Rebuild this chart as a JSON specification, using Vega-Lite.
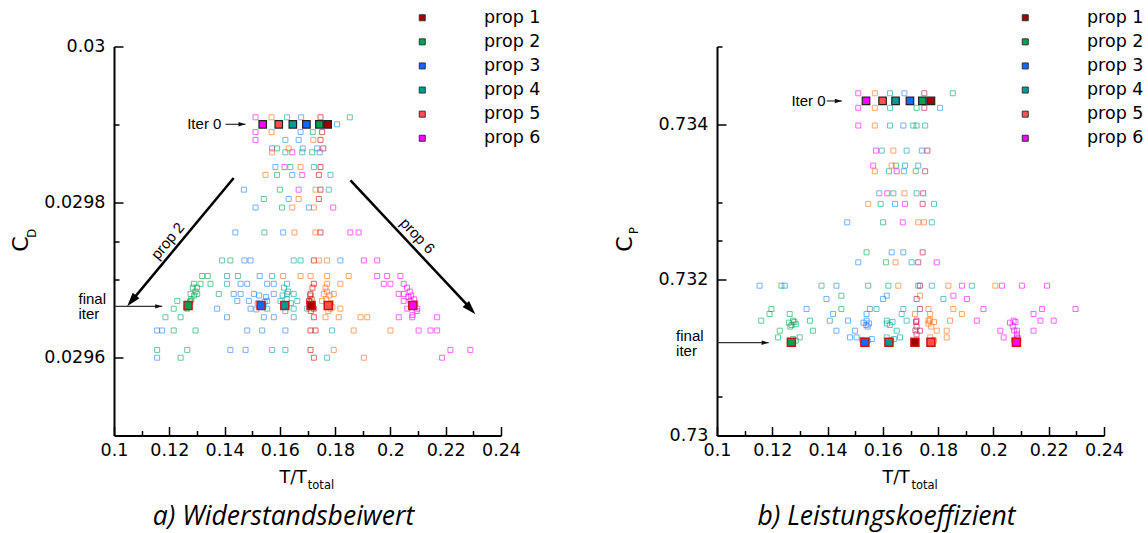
{
  "$schema": "https://vega.github.io/schema/vega-lite/v6.json",
  "background": "white",
  "padding": {"left": 9, "top": 8.5, "right": 0, "bottom": 0},
  "bounds": "flush",
  "spacing": 216,
  "config": {
    "view": {"stroke": null},
    "font": "DejaVu Sans",
    "axis": {
      "labelFont": "DejaVu Sans", "labelFontSize": 17.5, "labelColor": "#000",
      "domainColor": "#000", "domainWidth": 2, "tickColor": "#000", "tickWidth": 1.5,
      "grid": false, "titleFont": "DejaVu Sans", "titleFontWeight": "normal", "titleColor": "#000",
      "labelOverlap": false, "labelFlush": false, "labelBound": false
    }
  },
  "resolve": {"scale": {"fill": "independent", "stroke": "independent", "x": "independent", "y": "independent"}, "legend": {"fill": "independent"}},
  "datasets": {
    "cdScatter": [
      {"p":"prop 6","t":0.1512,"cd":0.029909},{"p":"prop 5","t":0.1570,"cd":0.029909},{"p":"prop 4","t":0.1626,"cd":0.029909},{"p":"prop 3","t":0.1677,"cd":0.029909},{"p":"prop 1","t":0.1747,"cd":0.029909},{"p":"prop 2","t":0.1853,"cd":0.029909},
      {"p":"prop 3","t":0.1807,"cd":0.0299},
      {"p":"prop 6","t":0.1512,"cd":0.02989},{"p":"prop 5","t":0.1570,"cd":0.02989},{"p":"prop 3","t":0.1675,"cd":0.02989},{"p":"prop 2","t":0.1719,"cd":0.02989},{"p":"prop 1","t":0.1753,"cd":0.02989},
      {"p":"prop 6","t":0.1512,"cd":0.02988},{"p":"prop 4","t":0.1620,"cd":0.02988},{"p":"prop 3","t":0.1668,"cd":0.02988},{"p":"prop 5","t":0.1721,"cd":0.02988},{"p":"prop 1","t":0.1747,"cd":0.02988},
      {"p":"prop 6","t":0.1572,"cd":0.029869},{"p":"prop 2","t":0.1590,"cd":0.029869},{"p":"prop 5","t":0.1632,"cd":0.029869},{"p":"prop 4","t":0.1683,"cd":0.029869},{"p":"prop 3","t":0.1735,"cd":0.029869},{"p":"prop 1","t":0.1757,"cd":0.029869},
      {"p":"prop 5","t":0.1572,"cd":0.029864},{"p":"prop 4","t":0.1620,"cd":0.029864},{"p":"prop 6","t":0.1645,"cd":0.029864},{"p":"prop 4","t":0.1681,"cd":0.029864},{"p":"prop 2","t":0.1717,"cd":0.029864},{"p":"prop 3","t":0.1744,"cd":0.029864},
      {"p":"prop 3","t":0.1584,"cd":0.029845},{"p":"prop 6","t":0.1617,"cd":0.029845},{"p":"prop 2","t":0.1638,"cd":0.029845},{"p":"prop 5","t":0.1675,"cd":0.029845},{"p":"prop 4","t":0.1723,"cd":0.029845},{"p":"prop 1","t":0.1747,"cd":0.029845},
      {"p":"prop 5","t":0.1548,"cd":0.029835},{"p":"prop 2","t":0.1590,"cd":0.029835},{"p":"prop 3","t":0.1645,"cd":0.029835},{"p":"prop 6","t":0.1681,"cd":0.029835},{"p":"prop 1","t":0.1741,"cd":0.029835},{"p":"prop 4","t":0.1783,"cd":0.029835},
      {"p":"prop 3","t":0.1470,"cd":0.029816},{"p":"prop 2","t":0.1600,"cd":0.029816},{"p":"prop 6","t":0.1668,"cd":0.029816},{"p":"prop 5","t":0.1729,"cd":0.029816},{"p":"prop 1","t":0.1747,"cd":0.029816},{"p":"prop 4","t":0.1777,"cd":0.029816},
      {"p":"prop 2","t":0.1542,"cd":0.029804},{"p":"prop 3","t":0.1632,"cd":0.029804},{"p":"prop 5","t":0.1668,"cd":0.029804},{"p":"prop 1","t":0.1741,"cd":0.029804},
      {"p":"prop 3","t":0.1512,"cd":0.029793},{"p":"prop 2","t":0.1608,"cd":0.029793},{"p":"prop 5","t":0.1645,"cd":0.029793},{"p":"prop 3","t":0.1705,"cd":0.029793},{"p":"prop 5","t":0.1723,"cd":0.029793},{"p":"prop 6","t":0.1793,"cd":0.029793},
      {"p":"prop 3","t":0.1439,"cd":0.029761},{"p":"prop 2","t":0.1544,"cd":0.029761},{"p":"prop 3","t":0.1612,"cd":0.029761},{"p":"prop 5","t":0.1653,"cd":0.029761},{"p":"prop 5","t":0.1729,"cd":0.029761},{"p":"prop 1","t":0.1747,"cd":0.029761},{"p":"prop 6","t":0.1855,"cd":0.029761},{"p":"prop 6","t":0.1885,"cd":0.029761},
      {"p":"prop 4","t":0.1391,"cd":0.029725},{"p":"prop 2","t":0.1421,"cd":0.029725},{"p":"prop 3","t":0.1472,"cd":0.029725},{"p":"prop 3","t":0.1494,"cd":0.029725},{"p":"prop 4","t":0.1650,"cd":0.029725},{"p":"prop 4","t":0.1675,"cd":0.029725},{"p":"prop 1","t":0.1723,"cd":0.029725},{"p":"prop 5","t":0.1741,"cd":0.029725},{"p":"prop 5","t":0.1771,"cd":0.029725},{"p":"prop 3","t":0.1819,"cd":0.029725},{"p":"prop 6","t":0.1904,"cd":0.029725},{"p":"prop 6","t":0.1952,"cd":0.029725},
      {"p":"prop 2","t":0.1319,"cd":0.029705},{"p":"prop 2","t":0.1339,"cd":0.029705},{"p":"prop 4","t":0.1409,"cd":0.029705},{"p":"prop 2","t":0.1448,"cd":0.029705},{"p":"prop 3","t":0.1527,"cd":0.029705},{"p":"prop 4","t":0.1572,"cd":0.029705},{"p":"prop 5","t":0.1612,"cd":0.029705},{"p":"prop 5","t":0.1675,"cd":0.029705},{"p":"prop 5","t":0.1711,"cd":0.029705},{"p":"prop 5","t":0.1771,"cd":0.029705},{"p":"prop 5","t":0.1849,"cd":0.029705},{"p":"prop 6","t":0.1952,"cd":0.029705},{"p":"prop 6","t":0.1988,"cd":0.029705},{"p":"prop 6","t":0.2036,"cd":0.029705},
      {"p":"prop 2","t":0.1289,"cd":0.029695},{"p":"prop 2","t":0.1313,"cd":0.029695},{"p":"prop 2","t":0.1349,"cd":0.029695},{"p":"prop 4","t":0.1409,"cd":0.029695},{"p":"prop 3","t":0.1458,"cd":0.029695},{"p":"prop 3","t":0.1482,"cd":0.029695},{"p":"prop 3","t":0.1554,"cd":0.029695},{"p":"prop 3","t":0.1578,"cd":0.029695},{"p":"prop 4","t":0.1626,"cd":0.029695},{"p":"prop 1","t":0.1723,"cd":0.029695},{"p":"prop 5","t":0.1771,"cd":0.029695},{"p":"prop 5","t":0.1819,"cd":0.029695},{"p":"prop 6","t":0.1976,"cd":0.029695},{"p":"prop 6","t":0.2000,"cd":0.029695},{"p":"prop 6","t":0.2048,"cd":0.029695},
      {"p":"prop 2","t":0.1277,"cd":0.029682},{"p":"prop 2","t":0.1301,"cd":0.029682},{"p":"prop 2","t":0.1379,"cd":0.029682},{"p":"prop 3","t":0.1433,"cd":0.029682},{"p":"prop 3","t":0.1458,"cd":0.029682},{"p":"prop 3","t":0.1506,"cd":0.029682},{"p":"prop 3","t":0.1578,"cd":0.029682},{"p":"prop 4","t":0.1626,"cd":0.029682},{"p":"prop 4","t":0.1650,"cd":0.029682},{"p":"prop 1","t":0.1711,"cd":0.029682},{"p":"prop 5","t":0.1759,"cd":0.029682},{"p":"prop 5","t":0.1795,"cd":0.029682},{"p":"prop 6","t":0.2030,"cd":0.029682},{"p":"prop 6","t":0.2048,"cd":0.029682},
      {"p":"prop 2","t":0.1229,"cd":0.029673},{"p":"prop 2","t":0.1277,"cd":0.029673},{"p":"prop 3","t":0.1446,"cd":0.029673},{"p":"prop 3","t":0.1488,"cd":0.029673},{"p":"prop 3","t":0.1554,"cd":0.029673},{"p":"prop 4","t":0.1602,"cd":0.029673},{"p":"prop 4","t":0.1663,"cd":0.029673},{"p":"prop 1","t":0.1705,"cd":0.029673},{"p":"prop 5","t":0.1753,"cd":0.029673},{"p":"prop 6","t":0.2048,"cd":0.029673},{"p":"prop 6","t":0.2072,"cd":0.029673},
      {"p":"prop 2","t":0.1216,"cd":0.029663},{"p":"prop 2","t":0.1265,"cd":0.029663},{"p":"prop 3","t":0.1373,"cd":0.029663},{"p":"prop 3","t":0.1494,"cd":0.029663},{"p":"prop 3","t":0.1554,"cd":0.029663},{"p":"prop 4","t":0.1650,"cd":0.029663},{"p":"prop 4","t":0.1699,"cd":0.029663},{"p":"prop 1","t":0.1723,"cd":0.029663},{"p":"prop 5","t":0.1783,"cd":0.029663},{"p":"prop 5","t":0.1819,"cd":0.029663},{"p":"prop 6","t":0.2061,"cd":0.029663},{"p":"prop 6","t":0.2097,"cd":0.029663},
      {"p":"prop 2","t":0.1186,"cd":0.029652},{"p":"prop 2","t":0.1241,"cd":0.029652},{"p":"prop 3","t":0.1409,"cd":0.029652},{"p":"prop 3","t":0.1542,"cd":0.029652},{"p":"prop 3","t":0.1578,"cd":0.029652},{"p":"prop 4","t":0.1650,"cd":0.029652},{"p":"prop 1","t":0.1723,"cd":0.029652},{"p":"prop 5","t":0.1765,"cd":0.029652},{"p":"prop 5","t":0.1813,"cd":0.029652},{"p":"prop 5","t":0.1892,"cd":0.029652},{"p":"prop 5","t":0.1916,"cd":0.029652},{"p":"prop 6","t":0.2030,"cd":0.029652},{"p":"prop 6","t":0.2079,"cd":0.029652},{"p":"prop 6","t":0.2169,"cd":0.029652},
      {"p":"prop 3","t":0.1156,"cd":0.029635},{"p":"prop 3","t":0.1174,"cd":0.029635},{"p":"prop 2","t":0.1216,"cd":0.029635},{"p":"prop 2","t":0.1295,"cd":0.029635},{"p":"prop 3","t":0.1482,"cd":0.029635},{"p":"prop 3","t":0.1536,"cd":0.029635},{"p":"prop 3","t":0.1620,"cd":0.029635},{"p":"prop 1","t":0.1711,"cd":0.029635},{"p":"prop 1","t":0.1729,"cd":0.029635},{"p":"prop 4","t":0.1789,"cd":0.029635},{"p":"prop 5","t":0.1867,"cd":0.029635},{"p":"prop 5","t":0.2000,"cd":0.029635},{"p":"prop 6","t":0.2102,"cd":0.029635},{"p":"prop 6","t":0.2145,"cd":0.029635},{"p":"prop 6","t":0.2169,"cd":0.029635},
      {"p":"prop 2","t":0.1156,"cd":0.02961},{"p":"prop 2","t":0.1265,"cd":0.02961},{"p":"prop 3","t":0.1421,"cd":0.02961},{"p":"prop 3","t":0.1476,"cd":0.02961},{"p":"prop 4","t":0.1572,"cd":0.02961},{"p":"prop 4","t":0.1620,"cd":0.02961},{"p":"prop 1","t":0.1711,"cd":0.02961},{"p":"prop 5","t":0.1795,"cd":0.02961},{"p":"prop 6","t":0.2217,"cd":0.02961},{"p":"prop 6","t":0.2289,"cd":0.02961},
      {"p":"prop 3","t":0.1156,"cd":0.0296},{"p":"prop 2","t":0.1241,"cd":0.0296},{"p":"prop 1","t":0.1723,"cd":0.0296},{"p":"prop 4","t":0.1771,"cd":0.0296},{"p":"prop 5","t":0.1904,"cd":0.0296},{"p":"prop 6","t":0.2187,"cd":0.0296},
      {"p":"prop 2","t":0.1280,"cd":0.029675},{"p":"prop 2","t":0.1290,"cd":0.02968},{"p":"prop 2","t":0.1295,"cd":0.029685},{"p":"prop 2","t":0.1275,"cd":0.029672},{"p":"prop 2","t":0.1300,"cd":0.02969},{"p":"prop 2","t":0.1262,"cd":0.029664},{"p":"prop 2","t":0.1285,"cd":0.02969},
      {"p":"prop 3","t":0.1520,"cd":0.02967},{"p":"prop 3","t":0.1545,"cd":0.029672},{"p":"prop 3","t":0.1540,"cd":0.029665},{"p":"prop 3","t":0.1525,"cd":0.02968},{"p":"prop 3","t":0.1550,"cd":0.029678},{"p":"prop 3","t":0.1515,"cd":0.029662},
      {"p":"prop 4","t":0.1610,"cd":0.02968},{"p":"prop 4","t":0.1625,"cd":0.029675},{"p":"prop 4","t":0.1630,"cd":0.029685},{"p":"prop 4","t":0.1620,"cd":0.02966},{"p":"prop 4","t":0.1640,"cd":0.02967},{"p":"prop 4","t":0.1615,"cd":0.02969},
      {"p":"prop 1","t":0.1710,"cd":0.02968},{"p":"prop 1","t":0.1715,"cd":0.029675},{"p":"prop 1","t":0.1712,"cd":0.02966},{"p":"prop 1","t":0.1718,"cd":0.02969},{"p":"prop 1","t":0.1708,"cd":0.029672},{"p":"prop 1","t":0.1720,"cd":0.029665},
      {"p":"prop 5","t":0.1765,"cd":0.02969},{"p":"prop 5","t":0.1770,"cd":0.029685},{"p":"prop 5","t":0.1780,"cd":0.02968},{"p":"prop 5","t":0.1768,"cd":0.029675},{"p":"prop 5","t":0.1785,"cd":0.02967},{"p":"prop 5","t":0.1775,"cd":0.02966},{"p":"prop 5","t":0.1790,"cd":0.029665},
      {"p":"prop 6","t":0.2060,"cd":0.02969},{"p":"prop 6","t":0.2070,"cd":0.029685},{"p":"prop 6","t":0.2075,"cd":0.02968},{"p":"prop 6","t":0.2085,"cd":0.029675},{"p":"prop 6","t":0.2090,"cd":0.02967},{"p":"prop 6","t":0.2065,"cd":0.029678},{"p":"prop 6","t":0.2095,"cd":0.02966},{"p":"prop 6","t":0.2080,"cd":0.029655}
    ],
    "cdMarkers": [
      {"p":"prop 6","t":0.1538,"cd":0.0299,"stage":"iter 0"},{"p":"prop 5","t":0.1596,"cd":0.0299,"stage":"iter 0"},{"p":"prop 4","t":0.1647,"cd":0.0299,"stage":"iter 0"},{"p":"prop 3","t":0.1696,"cd":0.0299,"stage":"iter 0"},{"p":"prop 2","t":0.1743,"cd":0.0299,"stage":"iter 0"},{"p":"prop 1","t":0.1773,"cd":0.0299,"stage":"iter 0"},
      {"p":"prop 2","t":0.1268,"cd":0.029667,"stage":"final"},{"p":"prop 3","t":0.1532,"cd":0.029667,"stage":"final"},{"p":"prop 4","t":0.1618,"cd":0.029667,"stage":"final"},{"p":"prop 1","t":0.1713,"cd":0.029667,"stage":"final"},{"p":"prop 5","t":0.1775,"cd":0.029667,"stage":"final"},{"p":"prop 6","t":0.2081,"cd":0.029667,"stage":"final"}
    ],
    "cdArrows": [
      {"t":0.1433,"cd":0.029831,"t2":0.10662,"cd2":0.029674,"kind":"big"},
      {"t":0.18555,"cd":0.029828,"t2":0.22877,"cd2":0.029664,"kind":"big"},
      {"t":0.14033,"cd":0.0299,"t2":0.14756,"cd2":0.0299,"kind":"small"},
      {"t":0.1002,"cd":0.029666,"t2":0.11743,"cd2":0.029666,"kind":"small"}
    ],
    "cdHeads": [
      {"t":0.10477,"cd":0.029666,"ang":219.6,"kind":"big"},
      {"t":0.23075,"cd":0.029656,"ang":136.8,"kind":"big"},
      {"t":0.14756,"cd":0.0299,"ang":90,"kind":"small"},
      {"t":0.11743,"cd":0.029666,"ang":90,"kind":"small"}
    ],
    "cdNotes": [
      {"label":"Iter 0","t":0.12648,"cd":0.0299},
      {"label":"final","t":0.08716,"cd":0.029676},
      {"label":"iter","t":0.08716,"cd":0.029656}
    ],
    "cdArrowLabels": [
      {"label":"prop 2","t":0.12246,"cd":0.029741,"ang":309.6},
      {"label":"prop 6","t":0.20688,"cd":0.029747,"ang":46.8}
    ],
    "cdSub": [
      {"label":"D","t":0.07161,"cd":0.02976,"ang":270},
      {"label":"total","t":0.17487,"cd":0.0294318,"ang":0}
    ],
    "cpScatter": [
      {"p":"prop 6","t":0.1511,"cp":0.734399},{"p":"prop 5","t":0.1571,"cp":0.734399},{"p":"prop 4","t":0.1626,"cp":0.734399},{"p":"prop 3","t":0.1678,"cp":0.734399},{"p":"prop 1","t":0.1750,"cp":0.734399},{"p":"prop 2","t":0.1853,"cp":0.734399},
      {"p":"prop 6","t":0.1511,"cp":0.734212},{"p":"prop 5","t":0.1571,"cp":0.734212},{"p":"prop 4","t":0.1626,"cp":0.734212},{"p":"prop 2","t":0.1722,"cp":0.734212},{"p":"prop 1","t":0.1750,"cp":0.734212},{"p":"prop 3","t":0.1807,"cp":0.734212},
      {"p":"prop 6","t":0.1511,"cp":0.733984},{"p":"prop 5","t":0.1571,"cp":0.733984},{"p":"prop 4","t":0.1626,"cp":0.733984},{"p":"prop 3","t":0.1674,"cp":0.733984},{"p":"prop 4","t":0.1710,"cp":0.733984},{"p":"prop 2","t":0.1722,"cp":0.733984},{"p":"prop 4","t":0.1753,"cp":0.733984},
      {"p":"prop 6","t":0.1575,"cp":0.733662},{"p":"prop 4","t":0.1596,"cp":0.733662},{"p":"prop 5","t":0.1638,"cp":0.733662},{"p":"prop 4","t":0.1686,"cp":0.733662},{"p":"prop 3","t":0.1741,"cp":0.733662},{"p":"prop 1","t":0.1761,"cp":0.733662},
      {"p":"prop 6","t":0.1565,"cp":0.733469},{"p":"prop 5","t":0.1632,"cp":0.733469},{"p":"prop 2","t":0.1647,"cp":0.733469},{"p":"prop 4","t":0.1680,"cp":0.733469},{"p":"prop 3","t":0.1728,"cp":0.733469},
      {"p":"prop 5","t":0.1571,"cp":0.733396},{"p":"prop 4","t":0.1622,"cp":0.733396},{"p":"prop 6","t":0.1650,"cp":0.733396},{"p":"prop 3","t":0.1676,"cp":0.733396},{"p":"prop 2","t":0.1719,"cp":0.733396},{"p":"prop 1","t":0.1753,"cp":0.733396},
      {"p":"prop 3","t":0.1587,"cp":0.733113},{"p":"prop 6","t":0.1616,"cp":0.733113},{"p":"prop 2","t":0.1638,"cp":0.733113},{"p":"prop 5","t":0.1678,"cp":0.733113},{"p":"prop 4","t":0.1722,"cp":0.733113},{"p":"prop 1","t":0.1746,"cp":0.733113},
      {"p":"prop 5","t":0.1547,"cp":0.732977},{"p":"prop 2","t":0.1592,"cp":0.732977},{"p":"prop 3","t":0.1644,"cp":0.732977},{"p":"prop 6","t":0.1680,"cp":0.732977},{"p":"prop 1","t":0.1744,"cp":0.732977},{"p":"prop 4","t":0.1785,"cp":0.732977},
      {"p":"prop 3","t":0.1471,"cp":0.73274},{"p":"prop 2","t":0.1601,"cp":0.73274},{"p":"prop 6","t":0.1672,"cp":0.73274},{"p":"prop 5","t":0.1728,"cp":0.73274},{"p":"prop 5","t":0.1749,"cp":0.73274},{"p":"prop 4","t":0.1777,"cp":0.73274},
      {"p":"prop 2","t":0.1541,"cp":0.732354},{"p":"prop 3","t":0.1632,"cp":0.732354},{"p":"prop 3","t":0.1674,"cp":0.732354},{"p":"prop 1","t":0.1744,"cp":0.732354},
      {"p":"prop 3","t":0.1511,"cp":0.732226},{"p":"prop 2","t":0.1611,"cp":0.732226},{"p":"prop 5","t":0.1646,"cp":0.732226},{"p":"prop 4","t":0.1704,"cp":0.732226},{"p":"prop 1","t":0.1728,"cp":0.732226},{"p":"prop 6","t":0.1795,"cp":0.732226},
      {"p":"prop 3","t":0.1154,"cp":0.731926},{"p":"prop 2","t":0.1233,"cp":0.731926},{"p":"prop 3","t":0.1245,"cp":0.731926},{"p":"prop 2","t":0.1378,"cp":0.731926},{"p":"prop 3","t":0.1432,"cp":0.731926},{"p":"prop 2","t":0.1547,"cp":0.731926},{"p":"prop 2","t":0.1620,"cp":0.731926},{"p":"prop 5","t":0.1656,"cp":0.731926},{"p":"prop 4","t":0.1728,"cp":0.731926},{"p":"prop 1","t":0.1734,"cp":0.731926},{"p":"prop 4","t":0.1777,"cp":0.731926},{"p":"prop 5","t":0.1837,"cp":0.731926},{"p":"prop 6","t":0.1886,"cp":0.731926},{"p":"prop 4","t":0.1922,"cp":0.731926},{"p":"prop 5","t":0.2007,"cp":0.731926},{"p":"prop 6","t":0.2031,"cp":0.731926},{"p":"prop 6","t":0.2103,"cp":0.731926},{"p":"prop 6","t":0.2194,"cp":0.731926},
      {"p":"prop 2","t":0.1450,"cp":0.731797},{"p":"prop 3","t":0.1614,"cp":0.731797},{"p":"prop 5","t":0.1734,"cp":0.731797},{"p":"prop 6","t":0.1855,"cp":0.731797},
      {"p":"prop 3","t":0.1396,"cp":0.731755},{"p":"prop 3","t":0.1601,"cp":0.731755},{"p":"prop 1","t":0.1722,"cp":0.731755},{"p":"prop 4","t":0.1819,"cp":0.731755},{"p":"prop 6","t":0.1904,"cp":0.731755},
      {"p":"prop 2","t":0.1197,"cp":0.731626},{"p":"prop 3","t":0.1324,"cp":0.731626},{"p":"prop 2","t":0.1450,"cp":0.731626},{"p":"prop 3","t":0.1553,"cp":0.731626},{"p":"prop 4","t":0.1577,"cp":0.731626},{"p":"prop 4","t":0.1674,"cp":0.731626},{"p":"prop 1","t":0.1734,"cp":0.731626},{"p":"prop 5","t":0.1765,"cp":0.731626},{"p":"prop 5","t":0.1855,"cp":0.731626},{"p":"prop 6","t":0.1964,"cp":0.731626},{"p":"prop 6","t":0.2176,"cp":0.731626},{"p":"prop 6","t":0.2297,"cp":0.731626},
      {"p":"prop 2","t":0.1190,"cp":0.731562},{"p":"prop 2","t":0.1263,"cp":0.731562},{"p":"prop 3","t":0.1420,"cp":0.731562},{"p":"prop 3","t":0.1541,"cp":0.731562},{"p":"prop 4","t":0.1668,"cp":0.731562},{"p":"prop 5","t":0.1716,"cp":0.731562},{"p":"prop 5","t":0.1771,"cp":0.731562},{"p":"prop 5","t":0.1886,"cp":0.731562},{"p":"prop 6","t":0.2145,"cp":0.731562},
      {"p":"prop 2","t":0.1160,"cp":0.731476},{"p":"prop 2","t":0.1275,"cp":0.731476},{"p":"prop 2","t":0.1336,"cp":0.731476},{"p":"prop 2","t":0.1408,"cp":0.731476},{"p":"prop 3","t":0.1474,"cp":0.731476},{"p":"prop 3","t":0.1541,"cp":0.731476},{"p":"prop 4","t":0.1614,"cp":0.731476},{"p":"prop 4","t":0.1686,"cp":0.731476},{"p":"prop 1","t":0.1722,"cp":0.731476},{"p":"prop 5","t":0.1765,"cp":0.731476},{"p":"prop 5","t":0.1843,"cp":0.731476},{"p":"prop 6","t":0.1940,"cp":0.731476},{"p":"prop 6","t":0.2073,"cp":0.731476},{"p":"prop 6","t":0.2170,"cp":0.731476},{"p":"prop 6","t":0.2218,"cp":0.731476},
      {"p":"prop 2","t":0.1260,"cp":0.73145},{"p":"prop 2","t":0.1270,"cp":0.73142},{"p":"prop 2","t":0.1280,"cp":0.73146},{"p":"prop 2","t":0.1265,"cp":0.7314},{"p":"prop 2","t":0.1285,"cp":0.73143},
      {"p":"prop 3","t":0.1530,"cp":0.73145},{"p":"prop 3","t":0.1540,"cp":0.73142},{"p":"prop 3","t":0.1550,"cp":0.73144},{"p":"prop 3","t":0.1545,"cp":0.7314},
      {"p":"prop 4","t":0.1615,"cp":0.73144},{"p":"prop 4","t":0.1625,"cp":0.73142},{"p":"prop 4","t":0.1635,"cp":0.73146},
      {"p":"prop 1","t":0.1720,"cp":0.73146},{"p":"prop 1","t":0.1722,"cp":0.7314},{"p":"prop 1","t":0.1718,"cp":0.73135},{"p":"prop 1","t":0.1722,"cp":0.7313},
      {"p":"prop 5","t":0.1765,"cp":0.73144},{"p":"prop 5","t":0.1775,"cp":0.7314},{"p":"prop 5","t":0.1785,"cp":0.73146},{"p":"prop 5","t":0.1770,"cp":0.73148},
      {"p":"prop 6","t":0.2060,"cp":0.73145},{"p":"prop 6","t":0.2070,"cp":0.7314},{"p":"prop 6","t":0.2080,"cp":0.73146},{"p":"prop 6","t":0.2075,"cp":0.73135},{"p":"prop 6","t":0.2085,"cp":0.7313},
      {"p":"prop 2","t":0.1227,"cp":0.731347},{"p":"prop 2","t":0.1347,"cp":0.731347},{"p":"prop 3","t":0.1432,"cp":0.731347},{"p":"prop 3","t":0.1499,"cp":0.731347},{"p":"prop 4","t":0.1650,"cp":0.731347},{"p":"prop 1","t":0.1734,"cp":0.731347},{"p":"prop 5","t":0.1795,"cp":0.731347},{"p":"prop 5","t":0.1831,"cp":0.731347},{"p":"prop 6","t":0.2025,"cp":0.731347},{"p":"prop 6","t":0.2085,"cp":0.731347},{"p":"prop 6","t":0.2145,"cp":0.731347},
      {"p":"prop 2","t":0.1221,"cp":0.731261},{"p":"prop 2","t":0.1299,"cp":0.731261},{"p":"prop 3","t":0.1481,"cp":0.731261},{"p":"prop 3","t":0.1505,"cp":0.731261},{"p":"prop 4","t":0.1614,"cp":0.731261},{"p":"prop 4","t":0.1662,"cp":0.731261},{"p":"prop 5","t":0.1771,"cp":0.731261},{"p":"prop 5","t":0.1831,"cp":0.731261},{"p":"prop 6","t":0.2037,"cp":0.731261},{"p":"prop 6","t":0.2085,"cp":0.731261},
      {"p":"prop 2","t":0.1285,"cp":0.73122},{"p":"prop 2","t":0.1275,"cp":0.73124},{"p":"prop 3","t":0.1525,"cp":0.73123},{"p":"prop 3","t":0.1545,"cp":0.73122},{"p":"prop 3","t":0.1560,"cp":0.73124},{"p":"prop 4","t":0.1630,"cp":0.73122},{"p":"prop 4","t":0.1640,"cp":0.73124},{"p":"prop 5","t":0.1785,"cp":0.73122},{"p":"prop 6","t":0.2075,"cp":0.73123},{"p":"prop 6","t":0.2090,"cp":0.73125}
    ],
    "cpMarkers": [
      {"p":"prop 6","t":0.1539,"cp":0.7343,"stage":"iter 0"},{"p":"prop 5","t":0.1599,"cp":0.7343,"stage":"iter 0"},{"p":"prop 4","t":0.1646,"cp":0.7343,"stage":"iter 0"},{"p":"prop 3","t":0.1698,"cp":0.7343,"stage":"iter 0"},{"p":"prop 2","t":0.1743,"cp":0.7343,"stage":"iter 0"},{"p":"prop 1","t":0.1774,"cp":0.7343,"stage":"iter 0"},
      {"p":"prop 2","t":0.1269,"cp":0.7312,"stage":"final"},{"p":"prop 3","t":0.1535,"cp":0.7312,"stage":"final"},{"p":"prop 4","t":0.1622,"cp":0.7312,"stage":"final"},{"p":"prop 1","t":0.1716,"cp":0.7312,"stage":"final"},{"p":"prop 5","t":0.1774,"cp":0.7312,"stage":"final"},{"p":"prop 6","t":0.2083,"cp":0.7312,"stage":"final"}
    ],
    "cpArrows": [
      {"t":0.13972,"cp":0.7343,"t2":0.14516,"cp2":0.7343,"kind":"small"},
      {"t":0.1002,"cp":0.731193,"t2":0.11868,"cp2":0.731193,"kind":"small"}
    ],
    "cpHeads": [
      {"t":0.14516,"cp":0.7343,"ang":90,"kind":"small"},
      {"t":0.11868,"cp":0.731193,"ang":90,"kind":"small"}
    ],
    "cpNotes": [
      {"label":"Iter 0","t":0.12691,"cp":0.7343},
      {"label":"final","t":0.0852,"cp":0.731283},
      {"label":"iter","t":0.0852,"cp":0.73109}
    ],
    "cpSub": [
      {"label":"P","t":0.07127,"cp":0.732633,"ang":270},
      {"label":"total","t":0.17508,"cp":0.729318,"ang":0}
    ]
  },
  "hconcat": [
    {
      "width": 387,
      "height": 389,
      "title": {"text": "a) Widerstandsbeiwert", "orient": "bottom", "frame": "group", "anchor": "middle", "dx": -24, "offset": 13, "font": "Open Sans", "fontStyle": "italic", "fontWeight": "normal", "fontSize": 26.5, "color": "#000"},
      "encoding": {
        "x": {"field": "t", "type": "quantitative",
          "scale": {"domain": [0.1, 0.24], "nice": false, "zero": false},
          "axis": {"title": "T/T", "values": [0.1,0.11,0.12,0.13,0.14,0.15,0.16,0.17,0.18,0.19,0.2,0.21,0.22,0.23,0.24], "format": "~g",
            "labelExpr": "round(datum.value*100) % 2 == 0 ? datum.label : ''",
            "tickSize": {"condition": {"test": "round(datum.value*100) % 2 == 0", "value": -9}, "value": -5},
            "labelPadding": 15, "titleX": 165, "titleY": 46.5, "titleAlign": "left", "titleBaseline": "alphabetic", "titleFontSize": 17.5, "titleAngle": 0}},
        "y": {"field": "cd", "type": "quantitative",
          "scale": {"domain": [0.0295, 0.03], "nice": false, "zero": false},
          "axis": {"title": "C", "values": [0.0296, 0.0297, 0.02975, 0.0298, 0.0299, 0.03], "format": "~g",
            "labelExpr": "(abs(datum.value*10000 - round(datum.value*10000)) < 0.01 && round(datum.value*10000) % 2 == 0) ? datum.label : ''",
            "tickSize": {"condition": {"test": "abs(datum.value*10000 - round(datum.value*10000)) < 0.01 && round(datum.value*10000) % 2 == 0", "value": -9}, "value": -5},
            "labelPadding": 18, "titleX": -86.8, "titleY": 197, "titleAlign": "center", "titleBaseline": "alphabetic", "titleAngle": 270, "titleFontSize": 22}}
      },
      "layer": [
        {"data": {"name": "cdScatter"},
         "mark": {"type": "point", "shape": "square", "filled": false, "size": 25, "strokeWidth": 1, "opacity": 0.6},
         "encoding": {"stroke": {"field": "p", "type": "nominal", "legend": null,
           "scale": {"range": ["#c00000","#00a651","#1a7fff","#00a0a0","#ff6a10","#ff00ff"]}}}},
        {"data": {"name": "cdArrows"}, "transform": [{"filter": "datum.kind == 'big'"}],
         "mark": {"type": "rule", "color": "#000", "strokeWidth": 2.5},
         "encoding": {"x2": {"field": "t2"}, "y2": {"field": "cd2"}}},
        {"data": {"name": "cdArrows"}, "transform": [{"filter": "datum.kind == 'small'"}],
         "mark": {"type": "rule", "color": "#333", "strokeWidth": 1.2},
         "encoding": {"x2": {"field": "t2"}, "y2": {"field": "cd2"}}},
        {"data": {"name": "cdHeads"}, "transform": [{"filter": "datum.kind == 'big'"}],
         "mark": {"type": "point", "shape": "M0,0L1.1,3.5L-1.1,3.5Z", "filled": true, "color": "#000", "opacity": 1, "size": 64, "clip": false},
         "encoding": {"angle": {"field": "ang", "type": "quantitative", "scale": null}}},
        {"data": {"name": "cdHeads"}, "transform": [{"filter": "datum.kind == 'small'"}],
         "mark": {"type": "point", "shape": "M0,0L1.1,3.5L-1.1,3.5Z", "filled": true, "color": "#111", "opacity": 1, "size": 16, "clip": false},
         "encoding": {"angle": {"field": "ang", "type": "quantitative", "scale": null}}},
        {"data": {"name": "cdMarkers"}, "transform": [{"filter": "datum.stage == 'iter 0'"}],
         "mark": {"type": "point", "shape": "square", "filled": true, "size": 56, "stroke": "#222", "strokeWidth": 1.2, "opacity": 1},
         "encoding": {"fill": {"field": "p", "type": "nominal",
           "scale": {"domain": ["prop 1","prop 2","prop 3","prop 4","prop 5","prop 6"], "range": ["#a00000","#00a050","#0a6cff","#009999","#ff5050","#ff00ff"]},
           "legend": {"orient": "none", "legendX": 299.5, "legendY": -37.5, "title": null,
             "symbolType": "square", "symbolSize": 36, "symbolStrokeColor": "#333", "symbolStrokeWidth": 1,
             "labelFont": "DejaVu Sans", "labelFontSize": 17.5, "labelColor": "#000", "labelOffset": 53,
             "rowPadding": 5.1, "padding": 0}}}},
        {"data": {"name": "cdMarkers"}, "transform": [{"filter": "datum.stage == 'final'"}],
         "mark": {"type": "point", "shape": "square", "filled": true, "size": 64, "stroke": "#d01010", "strokeWidth": 1.5, "opacity": 1},
         "encoding": {"fill": {"field": "p", "type": "nominal"}}},
        {"data": {"name": "cdNotes"},
         "mark": {"type": "text", "align": "left", "baseline": "middle", "font": "Liberation Sans", "fontSize": 15, "color": "#000", "clip": false},
         "encoding": {"text": {"field": "label"}}},
        {"data": {"name": "cdArrowLabels"},
         "mark": {"type": "text", "align": "center", "baseline": "bottom", "dy": -3, "font": "Liberation Sans", "fontSize": 15, "color": "#000", "clip": false},
         "encoding": {"text": {"field": "label"}, "angle": {"field": "ang", "type": "quantitative", "scale": null}}},
        {"data": {"name": "cdSub"},
         "mark": {"type": "text", "align": "center", "baseline": "alphabetic", "font": "DejaVu Sans", "fontSize": 11.5, "color": "#000", "clip": false},
         "encoding": {"text": {"field": "label"}, "angle": {"field": "ang", "type": "quantitative", "scale": null}}}
      ]
    },
    {
      "width": 387,
      "height": 389,
      "title": {"text": "b) Leistungskoeffizient", "orient": "bottom", "frame": "group", "anchor": "middle", "dx": -24, "offset": 13, "font": "Open Sans", "fontStyle": "italic", "fontWeight": "normal", "fontSize": 26.5, "color": "#000"},
      "encoding": {
        "x": {"field": "t", "type": "quantitative",
          "scale": {"domain": [0.1, 0.24], "nice": false, "zero": false},
          "axis": {"title": "T/T", "values": [0.1,0.11,0.12,0.13,0.14,0.15,0.16,0.17,0.18,0.19,0.2,0.21,0.22,0.23,0.24], "format": "~g",
            "labelExpr": "round(datum.value*100) % 2 == 0 ? datum.label : ''",
            "tickSize": {"condition": {"test": "round(datum.value*100) % 2 == 0", "value": -9}, "value": -5},
            "labelPadding": 15, "titleX": 165, "titleY": 46.5, "titleAlign": "left", "titleBaseline": "alphabetic", "titleFontSize": 17.5, "titleAngle": 0}},
        "y": {"field": "cp", "type": "quantitative",
          "scale": {"domain": [0.73, 0.735], "nice": false, "zero": false},
          "axis": {"title": "C", "values": [0.73, 0.7305, 0.732, 0.7325, 0.733, 0.734, 0.735], "format": "~g",
            "labelExpr": "(abs(datum.value*1000 - round(datum.value*1000)) < 0.01 && round(datum.value*1000) % 2 == 0) ? datum.label : ''",
            "tickSize": {"condition": {"test": "abs(datum.value*1000 - round(datum.value*1000)) < 0.01 && round(datum.value*1000) % 2 == 0", "value": -9}, "value": -5},
            "labelPadding": 18, "titleX": -85.8, "titleY": 197, "titleAlign": "center", "titleBaseline": "alphabetic", "titleAngle": 270, "titleFontSize": 22}}
      },
      "layer": [
        {"data": {"name": "cpScatter"},
         "mark": {"type": "point", "shape": "square", "filled": false, "size": 25, "strokeWidth": 1, "opacity": 0.6},
         "encoding": {"stroke": {"field": "p", "type": "nominal", "legend": null,
           "scale": {"range": ["#b0104a","#00a651","#1a7fff","#00a0a0","#ff6a10","#ff00ff"]}}}},
        {"data": {"name": "cpArrows"},
         "mark": {"type": "rule", "color": "#333", "strokeWidth": 1.2},
         "encoding": {"x2": {"field": "t2"}, "y2": {"field": "cp2"}}},
        {"data": {"name": "cpHeads"},
         "mark": {"type": "point", "shape": "M0,0L1.1,3.5L-1.1,3.5Z", "filled": true, "color": "#111", "opacity": 1, "size": 16, "clip": false},
         "encoding": {"angle": {"field": "ang", "type": "quantitative", "scale": null}}},
        {"data": {"name": "cpMarkers"}, "transform": [{"filter": "datum.stage == 'iter 0'"}],
         "mark": {"type": "point", "shape": "square", "filled": true, "size": 56, "stroke": "#222", "strokeWidth": 1.2, "opacity": 1},
         "encoding": {"fill": {"field": "p", "type": "nominal",
           "scale": {"domain": ["prop 1","prop 2","prop 3","prop 4","prop 5","prop 6"], "range": ["#a00000","#00a050","#0a6cff","#009999","#ff5050","#ff00ff"]},
           "legend": {"orient": "none", "legendX": 299.5, "legendY": -37.5, "title": null,
             "symbolType": "square", "symbolSize": 36, "symbolStrokeColor": "#333", "symbolStrokeWidth": 1,
             "labelFont": "DejaVu Sans", "labelFontSize": 17.5, "labelColor": "#000", "labelOffset": 53,
             "rowPadding": 5.1, "padding": 0}}}},
        {"data": {"name": "cpMarkers"}, "transform": [{"filter": "datum.stage == 'final'"}],
         "mark": {"type": "point", "shape": "square", "filled": true, "size": 64, "stroke": "#d01010", "strokeWidth": 1.5, "opacity": 1},
         "encoding": {"fill": {"field": "p", "type": "nominal"}}},
        {"data": {"name": "cpNotes"},
         "mark": {"type": "text", "align": "left", "baseline": "middle", "font": "Liberation Sans", "fontSize": 15, "color": "#000", "clip": false},
         "encoding": {"text": {"field": "label"}}},
        {"data": {"name": "cpSub"},
         "mark": {"type": "text", "align": "center", "baseline": "alphabetic", "font": "DejaVu Sans", "fontSize": 11.5, "color": "#000", "clip": false},
         "encoding": {"text": {"field": "label"}, "angle": {"field": "ang", "type": "quantitative", "scale": null}}}
      ]
    }
  ]
}
